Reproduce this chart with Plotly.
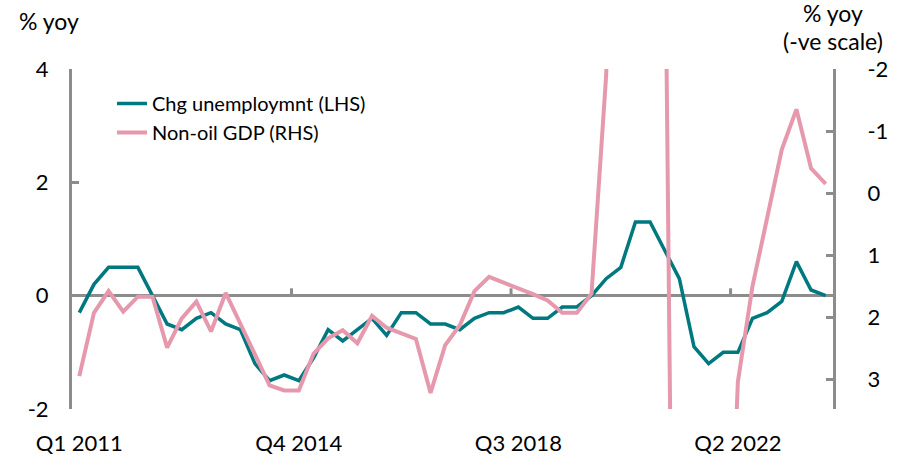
import plotly.graph_objects as go

# %% data
quarters = [f"Q{q} {y}" for y in range(2011, 2024) for q in range(1, 5)]

unemployment_chg = [-0.3, 0.2, 0.5, 0.5, 0.5, 0.0, -0.5, -0.6, -0.4, -0.3,
                    -0.5, -0.6, -1.2, -1.5, -1.4, -1.5, -1.1, -0.6, -0.8, -0.6,
                    -0.4, -0.7, -0.3, -0.3, -0.5, -0.5, -0.6, -0.4, -0.3, -0.3,
                    -0.2, -0.4, -0.4, -0.2, -0.2, 0.0, 0.3, 0.5, 1.3, 1.3,
                    0.8, 0.3, -0.9, -1.2, -1.0, -1.0, -0.4, -0.3, -0.1, 0.6,
                    0.1, 0.0]

non_oil_gdp = [2.95, 1.93, 1.58, 1.91, 1.67, 1.67, 2.49, 2.02, 1.75, 2.23,
               1.61, 2.12, 2.6, 3.1, 3.18, 3.18, 2.59, 2.34, 2.21, 2.42,
               1.98, 2.17, 2.26, 2.35, 3.22, 2.45, 2.13, 1.58, 1.35, 1.44,
               1.54, 1.63, 1.73, 1.93, 1.93, 1.62, -1.9, -9.5, -6.0, -5.5,
               -5.0, 18.0, 11.5, 9.5, 9.0, 3.04, 1.5, 0.4, -0.7, -1.35,
               -0.4, -0.15]

label_quarters = ["Q1 2011", "Q4 2014", "Q3 2018", "Q2 2022"]
lhs_ticks = [-2, 0, 2, 4]
rhs_ticks = [-2, -1, 0, 1, 2, 3]

TEAL = "#00787F"
PINK = "#E699AD"
GREY = "#8C8C8C"
FONT = "Lato"

W, H = 905, 458
L, R, T, B = 72, 72, 69, 49


def px_x(px):
    # page pixel -> plot-area fraction
    return (px - L) / (W - L - R)


def px_y(py):
    return (H - B - py) / (H - T - B)


# %% figure
fig = go.Figure()

fig.add_trace(go.Scatter(x=quarters, y=unemployment_chg, name="Chg unemploymnt (LHS)",
                         mode="lines", line=dict(color=TEAL, width=3.5)))
fig.add_trace(go.Scatter(x=quarters, y=non_oil_gdp, name="Non-oil GDP (RHS)",
                         mode="lines", line=dict(color=PINK, width=4), yaxis="y2"))

fig.update_layout(
    width=W, height=H,
    margin=dict(l=L, r=R, t=T, b=B),
    plot_bgcolor="white", paper_bgcolor="white",
    font=dict(family=FONT, size=22, color="black"),
    hovermode=False,
    showlegend=True,
    legend=dict(x=px_x(112), y=px_y(84), xanchor="left", yanchor="top",
                bgcolor="rgba(0,0,0,0)", font=dict(size=20), tracegroupgap=0),
    xaxis=dict(type="category", range=[-0.5, len(quarters) - 0.5],
               tickvals=label_quarters, ticktext=label_quarters,
               showline=False, showgrid=False, zeroline=False, ticks="",
               ticklabelstandoff=19, automargin=False),
    yaxis=dict(range=[-2, 4], tickvals=lhs_ticks, ticktext=[str(v) for v in lhs_ticks],
               showgrid=False, showline=True, linecolor=GREY, linewidth=3,
               ticks="inside", ticklen=7, tickwidth=3, tickcolor=GREY,
               zeroline=True, zerolinecolor=GREY, zerolinewidth=3,
               ticklabelstandoff=16, automargin=False),
    yaxis2=dict(range=[3.48, -2], tickvals=rhs_ticks, ticktext=[str(v) for v in rhs_ticks],
                overlaying="y", side="right",
                showgrid=False, showline=True, linecolor=GREY, linewidth=3,
                ticks="inside", ticklen=7, tickwidth=3, tickcolor=GREY,
                zeroline=False, ticklabelstandoff=27, automargin=False),
)

# category tick marks sitting on the zero line
for k in (15, 30, 45):
    fig.add_shape(type="line", xref="x", yref="y", x0=k - 0.5, x1=k - 0.5, y0=0, y1=0.13,
                  line=dict(color=GREY, width=3))

fig.add_annotation(text="% yoy", xref="paper", yref="paper", x=px_x(17), y=px_y(21),
                   xanchor="left", yanchor="middle", showarrow=False, font=dict(size=23))
fig.add_annotation(text="% yoy", xref="paper", yref="paper", x=px_x(833), y=px_y(13),
                   xanchor="center", yanchor="middle", showarrow=False, font=dict(size=23))
fig.add_annotation(text="(-ve scale)", xref="paper", yref="paper", x=px_x(833), y=px_y(41),
                   xanchor="center", yanchor="middle", showarrow=False, font=dict(size=23))

# drop the default body margin so the figure fills the window
fig.write_html("out.html", config={"displayModeBar": False},
               post_script="document.body.style.margin='0';")
